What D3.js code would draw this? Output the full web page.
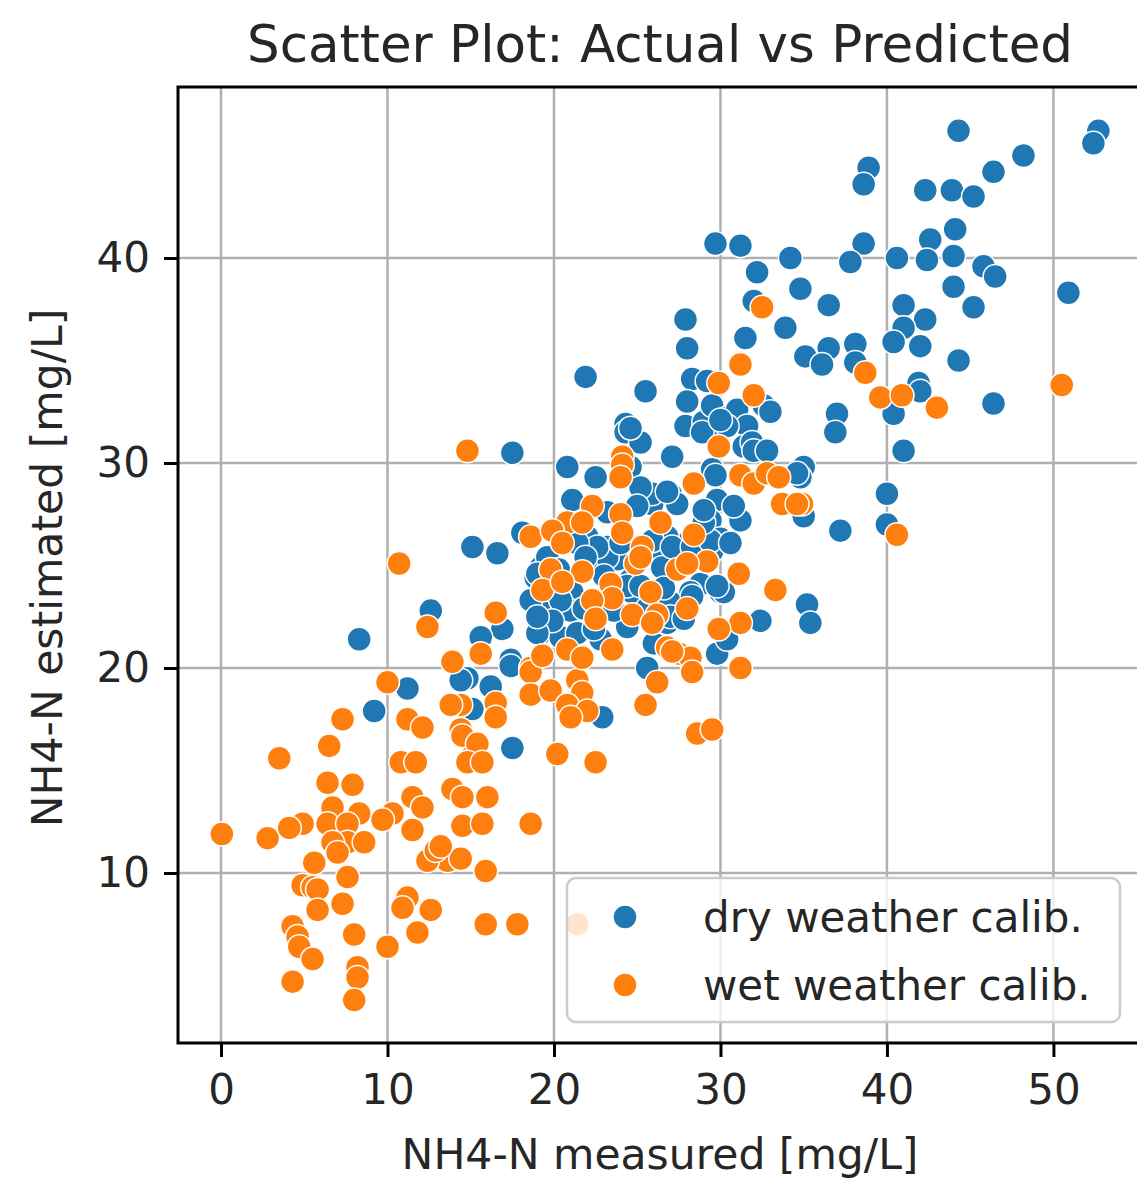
<!DOCTYPE html>
<html>
<head>
<meta charset="utf-8">
<script src="https://cdn.jsdelivr.net/npm/d3@7"></script>
<style>
  html, body { margin: 0; padding: 0; background: #fff; }
  svg { display: block; font-family: "DejaVu Sans", sans-serif; }
</style>
</head>
<body>
<svg id="chart" width="1137" height="1185"></svg>
<script>
const seriesNames = ["dry weather calib.", "wet weather calib."];
const seriesColors = ["#1f77b4", "#ff7f0e"];
const xTicks = [0, 10, 20, 30, 40, 50];
const yTicks = [10, 20, 30, 40];

const dryPoints = [
[44.3,46.2],[52.7,46.2],[52.4,45.6],[48.2,45.0],[46.4,44.2],[38.9,44.4],[38.6,43.6],[42.3,43.3],[43.9,43.3],[45.2,43.0],
[44.1,41.4],[42.6,40.9],[38.6,40.7],[29.7,40.7],[31.2,40.6],[34.2,40.0],[37.8,39.8],[40.6,40.0],[42.4,39.9],[44.0,40.1],
[45.8,39.6],[46.5,39.1],[32.2,39.3],[34.8,38.5],[32.0,37.9],[44.0,38.6],[50.9,38.3],[36.5,37.7],[33.9,36.6],[41.0,37.7],
[42.3,37.0],[41.0,36.6],[40.4,35.9],[42.0,35.7],[45.2,37.6],[31.5,36.1],[36.5,35.6],[35.1,35.2],[36.1,34.8],[38.1,35.8],
[38.1,34.9],[44.3,35.0],[41.9,33.9],[42.0,33.5],[46.4,32.9],[40.4,32.4],[37.0,32.4],[36.9,31.5],[32.6,32.8],[33.0,32.5],
[41.0,30.6],[35.0,29.8],[34.8,29.3],[35.0,27.4],[40.0,28.5],[40.0,27.0],[37.2,26.7],[34.6,29.5],[35.2,23.1],[35.4,22.2],
[32.4,22.3],[30.0,23.7],[29.8,20.7],
[21.9,34.2],[25.5,33.5],[27.9,37.0],[28.0,35.6],[28.3,34.1],[28.0,33.0],[27.9,31.8],[29.0,32.0],[24.3,31.9],[24.3,31.5],
[25.2,31.0],[17.5,30.5],[27.1,30.3],
[29.2,34.0],[29.5,32.8],[30.4,32.2],[31.0,32.6],[31.6,31.8],[30.0,31.6],[28.9,31.5],[30.4,31.8],[31.4,30.8],[31.9,31.0],
[30.0,32.1],[32.0,30.6],[32.8,30.6],[29.5,29.7],
[29.7,29.4],[29.8,28.2],[31.2,27.2],[29.4,27.2],[27.0,28.5],[27.4,28.0],[25.3,28.4],[25.9,28.0],[30.0,26.3],[29.5,25.7],
[27.7,26.0],[26.8,26.4],[26.2,25.6],[26.5,24.9],[30.2,23.7],[28.8,24.1],[28.2,23.7],[24.6,24.3],[24.6,31.7],[24.6,29.8],
[24.7,23.7],[25.9,28.5],[25.2,28.8],[26.8,28.6],
[20.8,29.8],[22.5,29.3],[21.1,28.2],[23.2,27.6],[25.0,27.9],[18.1,26.6],[15.1,25.9],[16.6,25.6],[22.0,26.4],[23.2,25.9],
[22.5,25.0],[23.8,25.3],[19.2,24.9],[18.9,24.4],[21.1,23.7],[24.4,24.0],[25.2,24.0],
[16.9,21.9],[15.6,21.5],[17.4,20.4],[14.8,19.5],[16.2,19.1],[22.9,17.6],[17.5,16.1],[25.6,20.0],[12.6,22.8],[8.3,21.4],
[11.2,19.0],[9.2,17.9],
[19.2,22.8],[19.8,22.2],[19.2,21.7],[21.0,22.8],[20.4,21.5],[22.8,21.4],[24.4,22.0],[26.8,22.2],[27.0,23.2],[28.3,23.5],
[30.4,21.4],[14.4,19.4],[15.1,18.0],[17.4,20.1],
[20.4,23.3],[19.9,22.3],[21.4,21.7],[19.0,21.7],[27.0,22.5],[23.2,25.4],[22.6,25.9],[24.0,26.1],[25.9,26.2],[27.1,25.9],
[28.3,25.9],[29.4,26.2],[30.6,26.1],[29.8,24.0],[29.0,27.1],[29.0,27.7],[30.8,27.9],[21.4,26.1],[19.6,25.4],[19.0,24.6],
[18.6,23.3],[19.0,22.5],
[21.8,22.9],[22.4,21.9],[23.6,22.8],[25.6,22.9],[26.0,21.2],[20.3,24.8],[21.9,25.4],[23.0,24.5],[26.6,23.9],[27.8,22.4]
];

const wetPoints = [
[32.5,37.6],[31.2,34.8],[29.9,33.9],[32.0,33.3],[38.7,34.4],[39.6,33.2],[40.9,33.3],[43.0,32.7],[50.5,33.8],[34.9,28.0],
[40.6,26.5],[14.8,30.6],[24.1,30.3],[29.9,30.8],
[24.1,29.9],[24.0,29.3],[28.4,29.0],[31.2,29.4],[32.0,29.0],[32.8,29.5],[33.5,29.3],[33.7,28.0],[34.6,28.0],[22.3,27.9],
[20.8,27.1],[21.7,27.1],[24.0,27.5],[24.1,26.6],[26.4,27.1],[28.4,26.5],[18.6,26.4],[19.9,26.7],[20.5,26.1],[25.3,25.9],
[24.9,25.1],[25.2,25.4],[19.8,24.8],[21.7,24.7],[27.4,24.8],[29.2,25.2],[28.0,25.1],[31.1,24.6],[33.3,23.8],[19.3,23.8],
[20.5,24.2],[23.4,24.1],[23.5,23.4],[25.8,23.7],[22.3,23.3],[28.0,22.9],[16.5,22.7],[24.7,22.6],[26.2,22.6],[22.5,22.4],
[31.2,22.2],[29.9,21.9],[31.2,20.0],[12.4,22.0],[15.6,20.7],[13.9,20.3],[18.6,20.0],[20.8,20.9],[23.5,20.9],[25.9,22.2],
[26.8,21.0],[27.5,20.7],[28.2,20.5],[28.3,19.8],[26.2,19.3],
[18.6,19.8],[18.6,18.7],[16.5,18.3],[16.5,17.6],[14.4,18.2],[14.4,17.0],[19.8,18.9],[21.4,19.4],[21.7,18.8],[20.8,18.2],
[22.0,17.9],[21.0,17.6],[19.3,20.6],[21.7,20.5],[25.5,18.2],[27.1,20.8],[28.6,16.8],[29.5,17.0],[20.2,15.8],[22.5,15.4],
[15.1,15.7],[10.7,25.1],
[0.05,11.9],[2.8,11.7],[3.5,15.6],[7.3,17.5],[6.5,16.2],[10.0,19.3],[11.2,17.5],[12.1,17.1],[13.8,18.2],[14.5,16.7],
[15.4,16.3],[14.8,15.4],[15.7,15.4],[10.8,15.4],[11.7,15.4],[6.4,14.4],[7.9,14.3],[13.9,14.1],[14.5,13.7],[16.0,13.7],
[11.5,13.7],[12.1,13.2],[6.7,13.2],[8.3,12.9],[10.3,12.9],[9.7,12.6],[11.5,12.1],[14.5,12.3],[15.7,12.4],[18.6,12.4],
[4.9,12.4],[4.1,12.2],[6.4,12.4],[7.6,12.4],[7.6,11.5],[8.6,11.5],[6.7,11.5],[7.0,11.0],[5.6,10.5],[7.6,9.8],
[4.9,9.4],[5.5,9.3],[5.8,9.2],[7.3,8.5],[5.8,8.2],[8.0,7.0],[4.3,7.4],[4.6,6.9],[4.7,6.4],[5.5,5.8],
[4.3,4.7],[8.2,5.4],[8.2,4.9],[8.0,3.8],[10.0,6.4],[11.2,8.8],[10.9,8.3],[12.6,8.2],[11.8,7.1],[13.6,10.6],
[12.4,10.6],[14.4,10.7],[12.9,11.1],[13.2,11.3],[15.9,10.1],[15.9,7.5],[17.8,7.5],[21.4,7.5]
];

(function draw() {
  const svg = d3.select("#chart");
  const pLeft = 178, pRight = 1142, pTop = 87, pBottom = 1043;

  const x = d3.scaleLinear().domain([-2.583, 55.32]).range([pLeft, pRight]);
  const y = d3.scaleLinear().domain([1.707, 48.34]).range([pBottom, pTop]);

  // grid
  const grid = svg.append("g");
  grid.selectAll("line.gx").data(xTicks).enter().append("line").attr("class", "gx")
    .attr("x1", d => x(d)).attr("x2", d => x(d)).attr("y1", pTop).attr("y2", pBottom)
    .attr("stroke", "#b0b0b0").attr("stroke-width", 2.5);
  grid.selectAll("line.gy").data(yTicks).enter().append("line").attr("class", "gy")
    .attr("x1", pLeft).attr("x2", pRight + 20).attr("y1", d => y(d)).attr("y2", d => y(d))
    .attr("stroke", "#b0b0b0").attr("stroke-width", 2.5);

  // clip
  svg.append("clipPath").attr("id", "plotclip").append("rect")
    .attr("x", pLeft).attr("y", pTop).attr("width", pRight - pLeft).attr("height", pBottom - pTop);

  const pts = svg.append("g").attr("clip-path", "url(#plotclip)");
  const allSeries = [dryPoints, wetPoints];
  allSeries.forEach((data, i) => {
    pts.append("g").selectAll("circle").data(data).enter().append("circle")
      .attr("cx", d => x(d[0])).attr("cy", d => y(d[1])).attr("r", 12)
      .attr("fill", seriesColors[i]).attr("stroke", "#fff").attr("stroke-width", 1.5);
  });

  // axes
  const fontTick = 42;
  const xAxis = svg.append("g").attr("transform", `translate(0,${pBottom})`)
    .call(d3.axisBottom(x).tickValues(xTicks).tickSize(14).tickPadding(17).tickFormat(d3.format("d")));
  xAxis.select(".domain").remove();
  xAxis.selectAll(".tick line").attr("stroke", "#000").attr("stroke-width", 3);
  xAxis.selectAll(".tick text").attr("font-size", fontTick).attr("fill", "#262626")
    .attr("font-family", "DejaVu Sans");

  const yAxis = svg.append("g").attr("transform", `translate(${pLeft},0)`)
    .call(d3.axisLeft(y).tickValues(yTicks).tickSize(14).tickPadding(14).tickFormat(d3.format("d")));
  yAxis.select(".domain").remove();
  yAxis.selectAll(".tick line").attr("stroke", "#000").attr("stroke-width", 3);
  yAxis.selectAll(".tick text").attr("font-size", fontTick).attr("fill", "#262626")
    .attr("font-family", "DejaVu Sans");

  // frame (spines)
  svg.append("path")
    .attr("d", `M${pRight + 20},${pTop} L${pLeft},${pTop} L${pLeft},${pBottom} L${pRight + 20},${pBottom}`)
    .attr("fill", "none").attr("stroke", "#000").attr("stroke-width", 3);

  // legend
  const lg = svg.append("g");
  lg.append("rect").attr("x", 567).attr("y", 878).attr("width", 553).attr("height", 144)
    .attr("rx", 9).attr("fill", "#fff").attr("fill-opacity", 0.8)
    .attr("stroke", "#cccccc").attr("stroke-width", 2.5);
  seriesNames.forEach((name, i) => {
    const cy = 917 + i * 68;
    lg.append("circle").attr("cx", 625).attr("cy", cy).attr("r", 12)
      .attr("fill", seriesColors[i]).attr("stroke", "#fff").attr("stroke-width", 1.5);
    lg.append("text").attr("x", 703).attr("y", cy).attr("dy", "0.35em")
      .attr("font-size", 42).attr("fill", "#262626").text(name);
  });

  // title and labels
  svg.append("text").attr("x", (pLeft + pRight) / 2).attr("y", 62).attr("text-anchor", "middle")
    .attr("font-size", 51.5).attr("fill", "#262626").text("Scatter Plot: Actual vs Predicted");
  svg.append("text").attr("x", (pLeft + pRight) / 2).attr("y", 1169).attr("text-anchor", "middle")
    .attr("font-size", 42.5).attr("fill", "#262626").text("NH4-N measured [mg/L]");
  svg.append("text").attr("transform", `translate(62,${(pTop + pBottom) / 2 + 3}) rotate(-90)`)
    .attr("text-anchor", "middle").attr("font-size", 42.5).attr("fill", "#262626")
    .text("NH4-N estimated [mg/L]");
})();
</script>
</body>
</html>
